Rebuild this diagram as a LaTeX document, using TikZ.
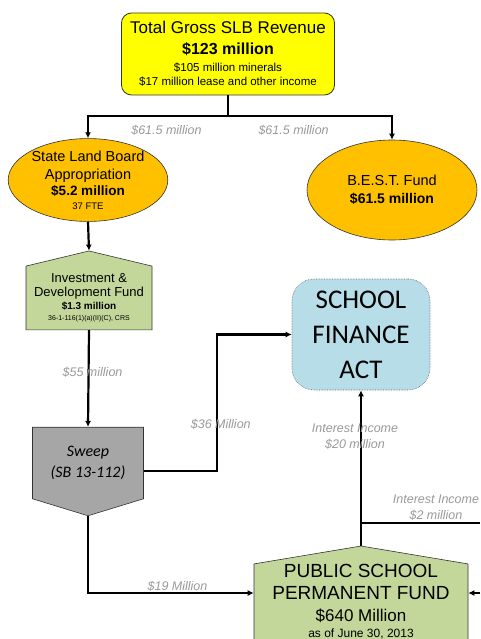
\documentclass[tikz,border=0pt]{standalone}
\usepackage{fontspec}
\setmainfont{Liberation Sans}
\newfontfamily\calibri{Carlito}
\usetikzlibrary{shapes.geometric,shapes.symbols,arrows.meta}

\definecolor{revyellow}{HTML}{FFFF00}
\definecolor{slborange}{HTML}{FFC000}
\definecolor{fundgreen}{HTML}{C4D79B}
\definecolor{sweepgray}{HTML}{A6A6A6}
\definecolor{sfablue}{HTML}{B7DEE8}
\definecolor{lblgray}{HTML}{999999}

\begin{document}
\begin{tikzpicture}[x=1pt,y=-1pt,
  line/.style={line width=2.2pt},
  arr/.style={line width=2.2pt,-{Latex[length=6pt,width=6pt]}},
  lbl/.style={font=\fontsize{12.5}{16}\selectfont\itshape,text=lblgray,align=center,inner sep=1pt},
  fund/.style={shape=signal,draw=black!80,line width=0.6pt,fill=fundgreen,align=center,inner sep=0pt},
  pot/.style={ellipse,draw=black!80,line width=0.6pt,fill=slborange,align=center,inner sep=0pt}]
\clip (0,0) rectangle (480,639);
\coordinate (edge) at (480,0);

% revenue
\node[draw=black!80,line width=0.8pt,fill=revyellow,rounded corners=10pt,
  minimum width=213pt,minimum height=82pt,align=center,inner sep=0pt,
  font=\fontsize{11.5}{14}\selectfont] (rev) at (228,54)
  {{\fontsize{17}{20}\selectfont Total Gross SLB Revenue}\\[7pt]
   {\fontsize{16}{19}\selectfont\bfseries \$123 million}\\[3pt]
   \$105 million minerals\\
   \$17 million lease and other income};
\coordinate (split) at (228,116);

% the two halves
\node[pot,minimum width=154pt,minimum height=80pt,font=\fontsize{14.5}{18}\selectfont] (slb) at (88,180)
  {State Land Board\\Appropriation\\[-2pt]
   {\fontsize{13.5}{16}\selectfont\bfseries \$5.2 million}\\[-4pt]
   {\fontsize{9.5}{11}\selectfont 37 FTE}};
\node[pot,minimum width=170pt,minimum height=100pt,font=\fontsize{14.5}{18}\selectfont] (best) at (392,190)
  {B.E.S.T. Fund\\{\fontsize{14}{17}\selectfont\bfseries \$61.5 million}};

% funds
\node[fund,signal to=north,signal pointer angle=153,minimum width=126pt,minimum height=77pt,
  font=\fontsize{13}{14}\selectfont] (inv) at (89,298)
  {Investment \&\\Development Fund\\[-1pt]
   {\fontsize{10}{12}\selectfont\bfseries \$1.3 million}\\[-3pt]
   {\fontsize{7}{8}\selectfont 36-1-116(1)(a)(II)(C), CRS}};
\node[fund,signal to=south,signal pointer angle=146,fill=sweepgray,
  minimum width=111pt,minimum height=83pt,font=\calibri\itshape\fontsize{16}{21}\selectfont] (sweep) at (88,463)
  {Sweep\\(SB 13-112)};
\node[draw=black!60,densely dotted,line width=0.6pt,fill=sfablue,rounded corners=22pt,
  minimum width=138pt,minimum height=111pt,align=center,inner sep=0pt,
  font=\calibri\fontsize{27}{35}\selectfont] (sfa) at (361,334.5)
  {SCHOOL\\FINANCE\\ACT};
\node[fund,signal to=north,signal pointer angle=161,minimum width=214pt,minimum height=91pt,
  font=\fontsize{19}{22}\selectfont] (pspf) at (361,602)
  {PUBLIC SCHOOL\\PERMANENT FUND\\
   {\fontsize{17}{20}\selectfont \$640 Million}\\[-6pt]
   {\fontsize{12}{14}\selectfont as of June 30, 2013}};
\coordinate (branch) at ([yshift=23pt]pspf.north);

% flows
\draw[line] (rev.south) -- (split);
\draw[arr] (split) -| node[lbl,below=7pt,pos=0.22] {\$61.5 million} (slb.north);
\draw[arr] (split) -| node[lbl,below=7pt,pos=0.2] {\$61.5 million} (best.north);
\draw[arr] (slb.south) -- (inv.north);
\draw[arr] (inv.south) -- node[lbl,pos=0.44,xshift=4pt] {\$55 million} (sweep.north);
\draw[arr] ([yshift=-8pt]sweep.east) -- ++(73,0) |- node[lbl,pos=0.17,xshift=4pt] {\$36 Million} (sfa.west);
\draw[arr] (sweep.south) |- node[lbl,above,pos=0.77] {\$19 Million} ([yshift=9pt]pspf.west);
\draw[arr] (pspf.north) -- node[lbl,pos=0.7,xshift=-6pt] {Interest Income\\\$20 million} (sfa.south);
\draw[line] (branch) -- node[lbl,above,pos=0.63] {Interest Income\\\$2 million} (branch -| edge);
\draw[arr] ([yshift=9pt]pspf.east -| edge) -- ([yshift=9pt]pspf.east);
\end{tikzpicture}
\end{document}
